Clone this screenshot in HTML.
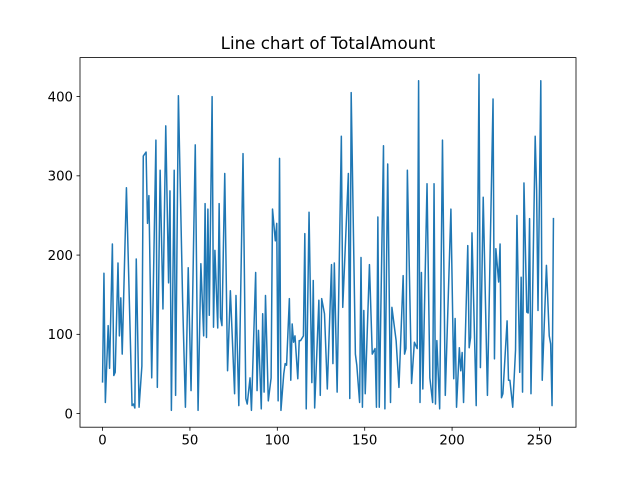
<!DOCTYPE html>
<html><head><meta charset="utf-8"><style>
html,body{margin:0;padding:0;background:#fff;}
svg{display:block;font-family:"DejaVu Sans","Liberation Sans",sans-serif;}
</style></head><body>
<svg id="chart" width="640" height="480" viewBox="0 0 640 480">
<rect width="640" height="480" fill="#fff"/>
<text x="328" y="49" font-size="16.7" text-anchor="middle" fill="#000">Line chart of TotalAmount</text>
<g id="xticks"></g>
<g id="yticks"></g>
<path id="series" fill="none" stroke="#1f77b4" stroke-width="1.5" stroke-linejoin="round" stroke-linecap="square"/>
<rect x="80" y="57.6" width="496" height="369.6" fill="none" stroke="#000" stroke-width="0.8"/>
</svg>
<script>
const xIndexRaw = [0,1,2,4,5,7,8,9,11,12,13,14,17,21,22,23,24,26,28,29,31,32,33,35,38,39,41,43,45,47,48,49,51,52,54,57,59,61,63,66,68,70,72,73,74,75,76,78,79,80,82,83,84,85,87,89,91,94,95,97,100,102,103,105,106,109,110,111,113,114,115,116,118,120,121,123,124,125,126,127,129,130,131,133,134,135,136,137,139,140,141,143,144,145,147,149,150,151,154,155,156,158,160,163,164,165,167,170,171,175,176,177,180,181,183,184,185,186,187,190,192,194,195,196,197,200,201,203,205,206,209,211,214,215,216,217,220,222,224,225,226,227,228,231,233,235,236,237,238,240,242,244,248,250,251,252,254,255,256,257,260,261,262,263,266,268,269,271,274,278,279,280,282,283,284,285,288,289,290,292,294,295,297,298,299,300,302,303,304,305,308,309,310,312,313,316,318,319,320,321];
const totalAmount = [40,177,14,111,57,214,48,52,190,98,146,75,285,10,12,7,195,8,60,325,330,240,275,45,345,33,307,132,363,165,281,4,307,23,401,143,8,184,29,339,4,189,98,265,96,258,124,400,109,206,108,265,121,111,303,54,155,25,149,10,328,19,12,45,4,178,29,105,6,126,27,149,16,45,258,218,240,16,322,4,50,63,61,145,42,113,90,98,44,92,92,98,227,6,254,39,168,7,143,23,145,126,31,188,63,190,27,350,134,303,19,405,75,61,14,197,8,130,25,188,75,82,8,248,8,338,6,315,14,134,92,33,174,75,82,307,38,90,82,420,14,178,31,290,45,14,290,12,92,6,345,23,258,44,120,8,83,54,77,14,212,83,96,228,10,428,58,273,23,397,69,208,166,214,20,25,117,42,42,8,80,250,52,172,27,291,128,127,246,25,350,282,130,420,42,187,98,88,10,246];
const lastIndex = 258;
const xTickValues = [0,50,100,150,200,250];
const yTickValues = [0,100,200,300,400];

const rawMax = Math.max(...xIndexRaw);
const xIndex = xIndexRaw.map(v => v * lastIndex / rawMax);
const L=80,R=576,T=57.6,B=427.2;
const xmin0=Math.min(...xIndex),xmax0=Math.max(...xIndex);
const ymin0=Math.min(...totalAmount),ymax0=Math.max(...totalAmount);
const xpad=(xmax0-xmin0)*0.05,ypad=(ymax0-ymin0)*0.05;
const xlo=xmin0-xpad,xhi=xmax0+xpad,ylo=ymin0-ypad,yhi=ymax0+ypad;
function xScale(v){return L+(v-xlo)/(xhi-xlo)*(R-L);}
function yScale(v){return B-(v-ylo)/(yhi-ylo)*(B-T);}
const NS='http://www.w3.org/2000/svg';
let d='';
for(let i=0;i<totalAmount.length;i++){d+=(i?'L':'M')+xScale(xIndex[i]).toFixed(2)+','+yScale(totalAmount[i]).toFixed(2);}
document.getElementById('series').setAttribute('d',d);
const xg=document.getElementById('xticks');
xTickValues.forEach(v=>{
  const x=xScale(v);
  const ln=document.createElementNS(NS,'line');
  ln.setAttribute('x1',x);ln.setAttribute('x2',x);ln.setAttribute('y1',B);ln.setAttribute('y2',B+3.5);
  ln.setAttribute('stroke','#000');ln.setAttribute('stroke-width','0.8');
  
  
  xg.appendChild(ln);
  const t=document.createElementNS(NS,'text');
  t.setAttribute('x',x);t.setAttribute('y',B+17.5);t.setAttribute('font-size','13.3');t.setAttribute('text-anchor','middle');
  t.textContent=v;
  
  
  xg.appendChild(t);
});
const yg=document.getElementById('yticks');
yTickValues.forEach(v=>{
  const y=yScale(v);
  const ln=document.createElementNS(NS,'line');
  ln.setAttribute('x1',L-3.5);ln.setAttribute('x2',L);ln.setAttribute('y1',y);ln.setAttribute('y2',y);
  ln.setAttribute('stroke','#000');ln.setAttribute('stroke-width','0.8');
  
  
  yg.appendChild(ln);
  const t=document.createElementNS(NS,'text');
  t.setAttribute('x',L-7);t.setAttribute('y',y+4.8);t.setAttribute('font-size','13.3');t.setAttribute('text-anchor','end');
  t.textContent=v;
  
  
  yg.appendChild(t);
});
</script>
</body></html>
